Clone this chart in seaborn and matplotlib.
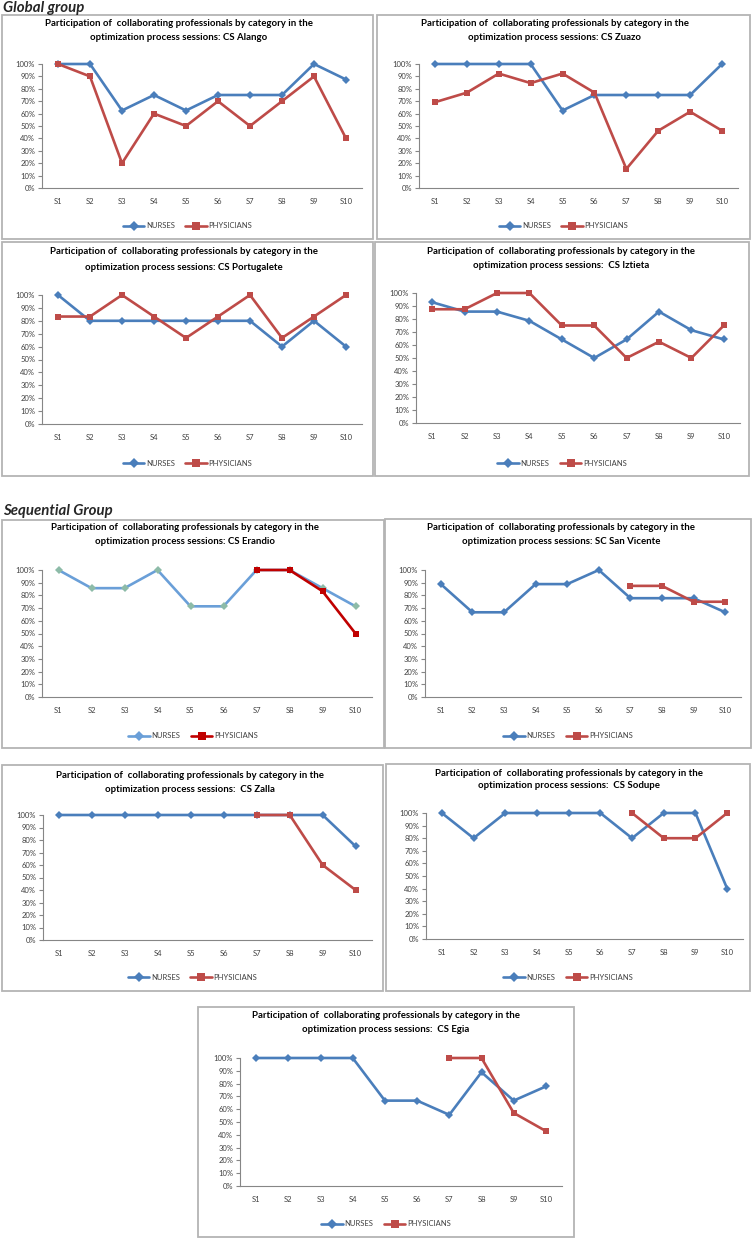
import numpy as np
import pandas as pd
import matplotlib
matplotlib.use("Agg")
import matplotlib.pyplot as plt
from matplotlib.patches import Rectangle
from matplotlib.ticker import FixedLocator, FuncFormatter
import seaborn as sns

#%% Data (participation, % of professionals per session)

sessions = ["S1", "S2", "S3", "S4", "S5", "S6", "S7", "S8", "S9", "S10"]
centres = ["CS Alango", "CS Zuazo", "CS Portugalete", " CS Iztieta", "CS Erandio",
           "SC San Vicente", " CS Zalla", " CS Sodupe", " CS Egia"]

na = np.nan
alango_nurses = [100, 100, 62.5, 75, 62.5, 75, 75, 75, 100, 87.5]
alango_phys = [100, 90, 20, 60, 50, 70, 50, 70, 90, 40]
zuazo_nurses = [100, 100, 100, 100, 62.5, 75, 75, 75, 75, 100]
zuazo_phys = [69.2, 76.9, 92.3, 84.6, 92.3, 76.9, 15.4, 46.2, 61.5, 46.2]
portugalete_nurses = [100, 80, 80, 80, 80, 80, 80, 60, 80, 60]
portugalete_phys = [83.3, 83.3, 100, 83.3, 66.7, 83.3, 100, 66.7, 83.3, 100]
iztieta_nurses = [92.9, 85.7, 85.7, 78.6, 64.3, 50, 64.3, 85.7, 71.4, 64.3]
iztieta_phys = [87.5, 87.5, 100, 100, 75, 75, 50, 62.5, 50, 75]
erandio_nurses = [100, 85.7, 85.7, 100, 71.4, 71.4, 100, 100, 85.7, 71.4]
erandio_phys = [na, na, na, na, na, na, 100, 100, 83.3, 50]
sanvicente_nurses = [88.9, 66.7, 66.7, 88.9, 88.9, 100, 77.8, 77.8, 77.8, 66.7]
sanvicente_phys = [na, na, na, na, na, na, 87.5, 87.5, 75, 75]
zalla_nurses = [100, 100, 100, 100, 100, 100, 100, 100, 100, 75]
zalla_phys = [na, na, na, na, na, na, 100, 100, 60, 40]
sodupe_nurses = [100, 80, 100, 100, 100, 100, 80, 100, 100, 40]
sodupe_phys = [na, na, na, na, na, na, 100, 80, 80, 100]
egia_nurses = [100, 100, 100, 100, 66.7, 66.7, 55.6, 88.9, 66.7, 77.8]
egia_phys = [na, na, na, na, na, na, 100, 100, 57.1, 42.9]

nurses = [alango_nurses, zuazo_nurses, portugalete_nurses, iztieta_nurses, erandio_nurses,
          sanvicente_nurses, zalla_nurses, sodupe_nurses, egia_nurses]
physicians = [alango_phys, zuazo_phys, portugalete_phys, iztieta_phys, erandio_phys,
              sanvicente_phys, zalla_phys, sodupe_phys, egia_phys]

#%% Layout in pixels: panel box, plot area, title centre x, title line ys, legend y

W, H = 755, 1240
layout = [
    dict(box=(2, 15, 373, 239), plot=(42, 64, 362, 188), tx=179, ty=(24, 37), ly=226),
    dict(box=(377, 15, 750, 239), plot=(419, 64, 738, 188), tx=555, ty=(24, 37), ly=226),
    dict(box=(2, 242, 373, 476), plot=(42, 295, 362, 424), tx=184, ty=(252, 267), ly=463),
    dict(box=(375, 242, 749, 476), plot=(416, 293, 740, 423), tx=561, ty=(252, 266), ly=463),
    dict(box=(2, 520, 384, 748), plot=(42, 570, 372, 697), tx=185, ty=(528, 542), ly=736),
    dict(box=(385, 519, 751, 748), plot=(425, 570, 741, 697), tx=561, ty=(527, 541), ly=736),
    dict(box=(2, 765, 383, 991), plot=(43, 815, 372, 940), tx=190, ty=(775, 789), ly=977),
    dict(box=(386, 764, 750, 991), plot=(426, 813, 743, 939), tx=569, ty=(773, 786), ly=977),
    dict(box=(198, 1007, 574, 1237), plot=(240, 1058, 562, 1186), tx=386, ty=(1015, 1030), ly=1224),
]

blue, red = "#4A7EBB", "#BE4B48"
palettes = [(blue, red)] * 9
palettes[4] = ("#6A9FD8", "#C00000")


def fx(px):
    return px / W


def fy(py):
    return 1 - py / H


#%% Theme

sns.set_theme(style="white")
plt.rcParams["font.family"] = ["Lato", "DejaVu Sans"]

fig = plt.figure(figsize=(W / 100, H / 100), dpi=100)
fig.patch.set_facecolor("white")

fig.text(fx(3), fy(8), "Global group", fontsize=10.8, fontweight="bold",
         fontstyle="italic", va="center", ha="left")
fig.text(fx(3), fy(511), "Sequential Group", fontsize=10.8, fontweight="bold",
         fontstyle="italic", va="center", ha="left")

#%% Panels

for i, lay in enumerate(layout):
    l, t, r, b = lay["box"]
    fig.patches.append(Rectangle((fx(l), fy(b)), (r - l) / W, (b - t) / H,
                                 transform=fig.transFigure, fill=False,
                                 edgecolor="#B4B4B4", lw=1.3))

    l, t, r, b = lay["plot"]
    ax = fig.add_axes([fx(l), fy(b), (r - l) / W, (b - t) / H])

    df = pd.DataFrame({
        "session": sessions * 2,
        "value": np.array(nurses[i] + physicians[i], dtype=float) / 100,
        "category": ["NURSES"] * 10 + ["PHYSICIANS"] * 10,
    })
    nc, pc = palettes[i]
    sns.lineplot(data=df, x="session", y="value", hue="category", style="category",
                 markers={"NURSES": "D", "PHYSICIANS": "s"}, dashes=False,
                 palette={"NURSES": nc, "PHYSICIANS": pc}, sort=False,
                 lw=1.9, markersize=4.4, markeredgewidth=0, ax=ax)
    for line in ax.get_lines():
        line.set_clip_on(False)
    if i == 4:
        ax.get_lines()[0].set_markerfacecolor("#8DBBA8")

    ax.set_xlim(-0.5, 9.5)
    ax.set_ylim(0, 1)
    ax.set_xlabel("")
    ax.set_ylabel("")
    ax.set_yticks(np.arange(0, 1.01, 0.1))
    ax.yaxis.set_major_formatter(FuncFormatter(lambda v, p: f"{round(v * 100)}%"))
    ax.xaxis.set_minor_locator(FixedLocator(np.arange(-0.5, 10, 1)))
    ax.tick_params(axis="x", which="major", length=0, pad=7, labelsize=5.5, labelcolor="#404040")
    ax.tick_params(axis="x", which="minor", length=3, width=0.8, color="#868686", direction="out")
    ax.tick_params(axis="y", length=3, width=0.8, color="#868686", direction="out",
                   pad=2, labelsize=5.5, labelcolor="#404040")
    ax.tick_params(left=True, bottom=True)
    for side in ["top", "right"]:
        ax.spines[side].set_visible(False)
    for side in ["left", "bottom"]:
        ax.spines[side].set_color("#868686")
        ax.spines[side].set_linewidth(0.8)

    title_a = "Participation of  collaborating professionals by category in the"
    title_b = "optimization process sessions: " + centres[i]
    for txt, yy in zip([title_a, title_b], lay["ty"]):
        fig.text(fx(lay["tx"]), fy(yy), txt, fontsize=6.9, fontweight="bold",
                 ha="center", va="center", color="black")

    handles, labels = ax.get_legend_handles_labels()
    ax.legend(handles, labels, loc="center", ncol=2, frameon=False,
              bbox_to_anchor=(fx((lay["box"][0] + lay["box"][2]) / 2), fy(lay["ly"])),
              bbox_transform=fig.transFigure, fontsize=5.5, handlelength=2.8,
              markerscale=1.2, handletextpad=0.2, columnspacing=1.4, labelcolor="#404040")

fig.savefig("out.png", dpi=100)
